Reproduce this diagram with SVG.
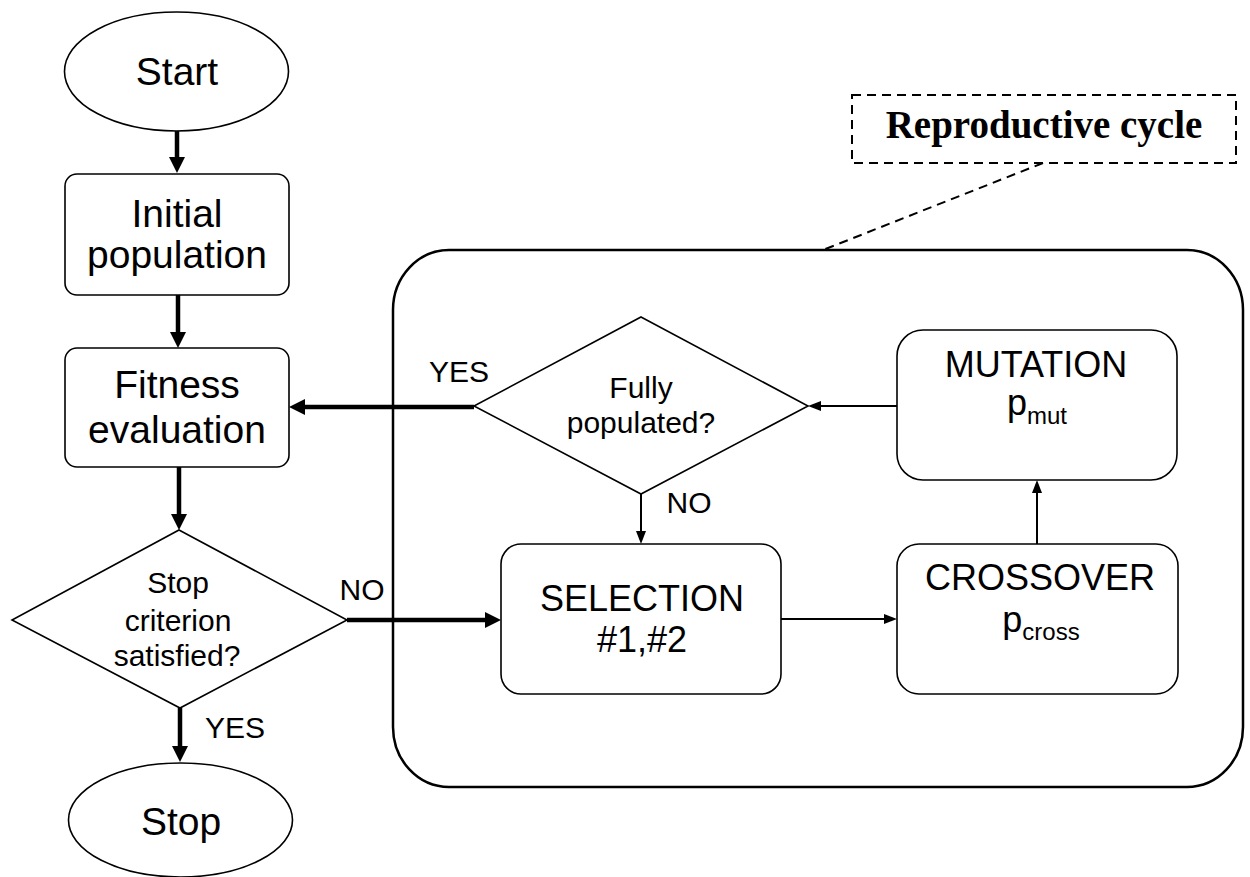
<svg xmlns="http://www.w3.org/2000/svg" width="1250" height="877" viewBox="0 0 1250 877">
<style>
.shape{fill:#fff;stroke:#000;stroke-width:1.6}
.txt{font-family:"Liberation Sans",Arial,sans-serif;fill:#000;text-anchor:middle}
.big{font-size:39px}
.mid{font-size:36px}
.sm{font-size:30px}
.thick{stroke:#000;stroke-width:4.5;fill:none;marker-end:url(#ah)}
.thin{stroke:#000;stroke-width:2;fill:none;marker-end:url(#as)}
.dash{stroke:#000;stroke-width:2;fill:none;stroke-dasharray:9,6}
</style>
<defs>
<marker id="ah" markerUnits="userSpaceOnUse" markerWidth="16" markerHeight="16" refX="6" refY="8" orient="auto"><path d="M0,0 L16,8 L0,16 z" fill="#000"/></marker>
<marker id="as" markerUnits="userSpaceOnUse" markerWidth="13" markerHeight="10" refX="5" refY="5" orient="auto"><path d="M0,0 L13,5 L0,10 z" fill="#000"/></marker>
</defs>
<rect width="1250" height="877" fill="#fff"/>

<g id="container">
<rect x="393" y="250" width="850" height="537" rx="56" ry="60" fill="none" stroke="#000" stroke-width="2.5"/>
</g>

<g id="label-reproductive">
<rect x="852" y="95" width="384" height="68" fill="none" class="dash"/>
<text x="1044" y="138" style="font-family:'Liberation Serif','Times New Roman',serif;font-weight:bold;font-size:39px;text-anchor:middle">Reproductive cycle</text>
<path d="M1043,163 L823,250" class="dash"/>
</g>

<g id="start">
<ellipse cx="176.5" cy="71.5" rx="112" ry="59.5" class="shape"/>
<text x="177" y="85" class="txt big">Start</text>
</g>

<g id="initial">
<rect x="65" y="174" width="224" height="121" rx="12" class="shape"/>
<text x="177" y="227" class="txt big">Initial</text>
<text x="177" y="268" class="txt big">population</text>
</g>

<g id="fitness">
<rect x="65" y="348" width="224" height="119" rx="12" class="shape"/>
<text x="177" y="398" class="txt big">Fitness</text>
<text x="177" y="443" class="txt big">evaluation</text>
</g>

<g id="stopcrit">
<polygon points="179,530 347,620 180,708 12,620" class="shape"/>
<text x="178" y="593" class="txt sm">Stop</text>
<text x="178" y="631" class="txt sm">criterion</text>
<text x="177" y="666" class="txt sm">satisfied?</text>
</g>

<g id="stop">
<ellipse cx="180.5" cy="820" rx="112" ry="57" class="shape"/>
<text x="181" y="835" class="txt big">Stop</text>
</g>

<g id="fully">
<polygon points="641,317 808,406 641,494 474,406" class="shape"/>
<text x="641" y="398" class="txt sm">Fully</text>
<text x="641" y="433" class="txt sm">populated?</text>
</g>

<g id="selection">
<rect x="501" y="544" width="280" height="150" rx="20" class="shape"/>
<text x="642" y="611" class="txt mid">SELECTION</text>
<text x="642" y="652" class="txt mid">#1,#2</text>
</g>

<g id="crossover">
<rect x="897" y="544" width="281" height="150" rx="22" class="shape"/>
<text x="1040" y="590" class="txt mid">CROSSOVER</text>
<text x="1041" y="632" class="txt mid">p<tspan font-size="24" dy="8">cross</tspan></text>
</g>

<g id="mutation">
<rect x="897" y="330" width="280" height="150" rx="26" class="shape"/>
<text x="1036" y="377" class="txt mid">MUTATION</text>
<text x="1037" y="415" class="txt mid">p<tspan font-size="24" dy="9">mut</tspan></text>
</g>

<g id="connectors">
<path d="M177,131 V163" class="thick"/>
<path d="M178,295 V338" class="thick"/>
<path d="M179,467 V520" class="thick"/>
<path d="M180,708 V752" class="thick"/>
<path d="M474,407 H299" class="thick"/>
<path d="M347,620 H491" class="thick"/>
<path d="M641,494 V536" class="thin"/>
<path d="M781,619 H889" class="thin"/>
<path d="M1037,544 V488" class="thin"/>
<path d="M897,406 H816" class="thin"/>
</g>

<g id="edge-labels">
<text x="235" y="738" class="txt sm">YES</text>
<text x="362" y="600" class="txt sm">NO</text>
<text x="459" y="382" class="txt sm">YES</text>
<text x="689" y="513" class="txt sm">NO</text>
</g>
</svg>
